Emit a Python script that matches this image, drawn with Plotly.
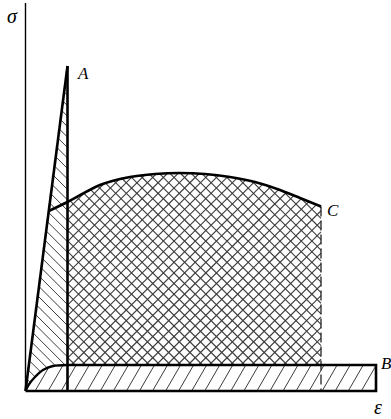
import numpy as np
import plotly.graph_objects as go

# Schematic stress-strain diagram (arbitrary units: eps along x, sig along y).
# O -> A : linear elastic branch
elastic_eps = [0.0, 42.0]
elastic_sig = [0.0, 325.0]
# plastic hardening curve, starting on OA and ending at C
plastic_eps = [23.3, 42.0, 74.5, 104.5, 129.5, 154.5, 179.5, 204.5, 229.5, 254.5, 274.5, 295.5]
plastic_sig = [180.0, 189.0, 206.0, 214.0, 217.0, 218.0, 217.0, 214.0, 209.0, 201.0, 193.0, 184.5]
# low initial toe of the flat (B) branch
toe_eps = [0.0, 3.0, 9.5, 17.5, 27.5, 42.0]
toe_sig = [0.0, 6.0, 14.0, 21.0, 25.0, 26.0]
# flat branch ending at B
flat_eps = [42.0, 350.5]
flat_sig = [26.0, 26.0]

point_labels = ["A", "C", "B"]
axis_labels = ["σ", "ε"]

INK = "#000000"
HATCH = "#3c3c3c"


def hatch(poly, angle_deg, gap, phase=0.0):
    """Parallel hatch segments clipped to a simple polygon."""
    th = np.radians(angle_deg)
    u = np.array([np.cos(th), np.sin(th)])
    n = np.array([-np.sin(th), np.cos(th)])
    P = np.asarray(poly, float)
    proj = P @ n
    xs, ys = [], []
    c = phase + np.floor((proj.min() - phase) / gap) * gap
    while c <= proj.max():
        pts = []
        for i in range(len(P)):
            p1, p2 = P[i], P[(i + 1) % len(P)]
            s1, s2 = p1 @ n - c, p2 @ n - c
            if (s1 < 0) != (s2 < 0):
                t = s1 / (s1 - s2)
                pts.append(p1 + t * (p2 - p1))
        pts.sort(key=lambda q: q @ u)
        for a, b in zip(pts[0::2], pts[1::2]):
            xs += [a[0], b[0], None]
            ys += [a[1], b[1], None]
        c += gap
    return xs, ys


eA, sA = elastic_eps[1], elastic_sig[1]
eC, sC = plastic_eps[-1], plastic_sig[-1]
eB, sB = flat_eps[1], flat_sig[1]

# regions
elastic_region = [(0.0, 0.0), (eA, sA)] + list(zip(toe_eps[::-1], toe_sig[::-1]))
plastic_region = ([(eA, sB)] + list(zip(plastic_eps[1:], plastic_sig[1:])) + [(eC, sB)])
flat_region = list(zip(toe_eps, toe_sig)) + [(eB, sB), (eB, 0.0)]

fig = go.Figure()

def add_lines(xs, ys, color, width, dash=None):
    fig.add_trace(go.Scatter(x=xs, y=ys, mode="lines", hoverinfo="skip",
                             line=dict(color=color, width=width, dash=dash)))

# hatching
hx, hy = hatch(elastic_region, -45, 7.4, 2.0)
add_lines(hx, hy, HATCH, 1.0)
for ang in (45, -45):
    hx, hy = hatch(plastic_region, ang, 7.5, 1.0)
    add_lines(hx, hy, HATCH, 1.1)
hx, hy = hatch(flat_region, 60, 11.3, 3.0)
add_lines(hx, hy, HATCH, 1.0)

# axis
add_lines([0.0, 0.0], [0.0, 388.0], INK, 1.4)
# dashed drop from C
add_lines([eC, eC], [sC, 0.0], "#222222", 1.3, dash="10px,4px")

# outlines
add_lines(elastic_eps, elastic_sig, INK, 2.6)
add_lines([eA, eA], [sA, 0.0], INK, 2.6)
fig.add_trace(go.Scatter(x=plastic_eps, y=plastic_sig, mode="lines", hoverinfo="skip",
                         line=dict(color=INK, width=2.6, shape="spline", smoothing=0.8)))
fig.add_trace(go.Scatter(x=toe_eps, y=toe_sig, mode="lines", hoverinfo="skip",
                         line=dict(color=INK, width=2.4, shape="spline", smoothing=0.8)))
add_lines([eA, eB, eB, 0.0], [sB, sB, 0.0, 0.0], INK, 2.6)

font_lat = dict(family="Liberation Serif", size=17, color=INK)
font_gr = dict(family="Liberation Serif", size=20, color=INK)
anns = [
    dict(x=eA, y=sA, text="<i>%s</i>" % point_labels[0], xshift=15, yshift=-7,
         yanchor="middle", font=font_lat),
    dict(x=eC, y=sC, text="<i>%s</i>" % point_labels[1], xshift=12, yshift=-4,
         yanchor="middle", font=font_lat),
    dict(x=eB, y=sB, text="<i>%s</i>" % point_labels[2], xshift=10, yshift=2,
         yanchor="middle", font=font_lat),
    dict(x=0.0, y=388.0, text="<i>%s</i>" % axis_labels[0], xshift=-13, yshift=-13,
         yanchor="middle", font=font_gr),
    dict(x=eB, y=-28.0, text="<i>%s</i>" % axis_labels[1], xshift=1.5, yshift=0,
         yanchor="bottom", font=font_gr, borderpad=0),
]
for a in anns:
    fig.add_annotation(xref="x", yref="y", showarrow=False, xanchor="center", **a)

fig.update_layout(
    width=391, height=419,
    margin=dict(l=0, r=0, t=0, b=0),
    paper_bgcolor="white", plot_bgcolor="white",
    showlegend=False, hovermode=False,
    xaxis=dict(visible=False, range=[-25.5, 365.5], fixedrange=True),
    yaxis=dict(visible=False, range=[-28.0, 391.0], fixedrange=True),
)

fig.write_html("out.html", config={"displayModeBar": False})
